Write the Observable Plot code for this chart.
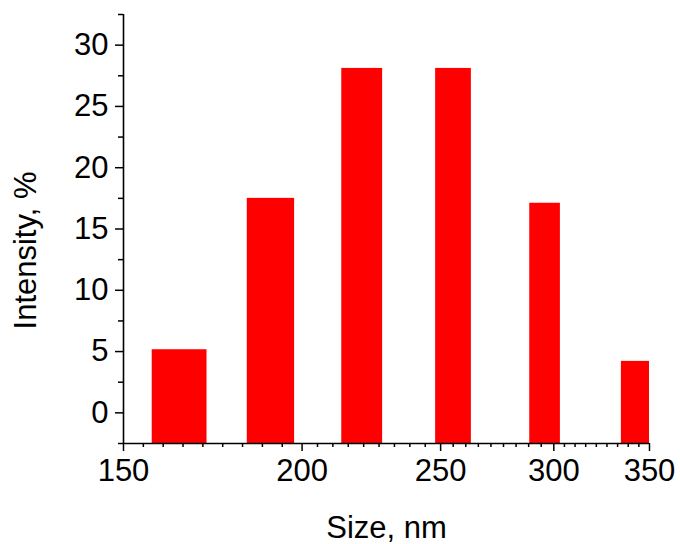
<!DOCTYPE html>
<html>
<head>
<meta charset="utf-8">
<script src="https://cdn.jsdelivr.net/npm/d3@7"></script>
<script src="https://cdn.jsdelivr.net/npm/@observablehq/plot@0.6"></script>
<style>
  html, body { margin: 0; padding: 0; background: #fff; }
</style>
</head>
<body>
<div id="chart"></div>
<script>
// Bins (size ranges, nm) and intensities (%)
const binStart = [157.1, 183.1, 213.2, 248.0, 288.6, 334.5];
const binEnd   = [171.6, 197.6, 227.7, 262.7, 303.2, 350.0];
const intensity = [5.15, 17.5, 28.1, 28.1, 17.1, 4.2];

const xTicks = [150, 200, 250, 300, 350];
const yTicks = [0, 5, 10, 15, 20, 25, 30];
const xDomain = [150, 350];
const yDomain = [-2.5, 32.5];
const xLabel = "Size, nm";
const yLabel = "Intensity, %";

const bars = binStart.map((s, i) => ({x1: s, x2: binEnd[i], y: intensity[i]}));

// minor ticks: 8 per major interval on the log axis, and half steps on y
const xMinor = [];
for (let i = 0; i < xTicks.length - 1; i++) {
  const a = xTicks[i], b = xTicks[i + 1];
  for (let k = 1; k < 9; k++) xMinor.push(a * Math.pow(b / a, k / 9));
}
const yMinor = d3.range(yDomain[0], yDomain[1] + 0.01, 5);

const font = "'Liberation Sans', Arial, Helvetica, sans-serif";

const plot = Plot.plot({
  width: 680,
  height: 544,
  marginLeft: 123,
  marginRight: 31,
  marginTop: 14,
  marginBottom: 101,
  style: {fontFamily: font, fontSize: "31px", background: "#fff", color: "#000"},
  x: {type: "log", domain: xDomain},
  y: {domain: yDomain},
  marks: [
    Plot.rectY(bars, {x1: "x1", x2: "x2", y1: yDomain[0], y2: "y", fill: "#ff0000"}),
    Plot.axisX(xMinor, {tickSize: 4, text: null, strokeWidth: 1.5, label: null}),
    Plot.axisX(xTicks, {tickSize: 8, tickPadding: 7, strokeWidth: 1.5, tickFormat: d => String(d), label: null, fontSize: 31}),
    Plot.axisY(yMinor, {tickSize: 5, text: null, strokeWidth: 1.5, label: null}),
    Plot.axisY(yTicks, {tickSize: 8, tickPadding: 7, strokeWidth: 1.5, tickFormat: d => String(d), label: null, fontSize: 31}),
    Plot.ruleY([yDomain[0]], {stroke: "#000", strokeWidth: 1.6}),
    Plot.ruleX([xDomain[0]], {stroke: "#000", strokeWidth: 1.6}),
    Plot.text([xLabel], {frameAnchor: "bottom", text: d => d, dy: 94, lineAnchor: "bottom", fontSize: 31, fill: "#000"}),
    Plot.text([yLabel], {frameAnchor: "left", text: d => d, dx: -97, dy: 21.5, rotate: -90, textAnchor: "middle", lineAnchor: "middle", fontSize: 31, fill: "#000"})
  ]
});
document.getElementById("chart").appendChild(plot);
</script>
</body>
</html>
